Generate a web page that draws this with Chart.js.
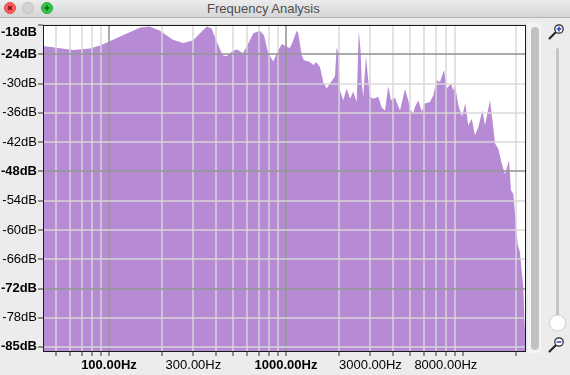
<!DOCTYPE html>
<html><head><meta charset="utf-8">
<script src="https://cdn.jsdelivr.net/npm/chart.js@4/dist/chart.umd.min.js"></script>
<style>
html,body{margin:0;padding:0;width:570px;height:375px;overflow:hidden;background:#ececec;font-family:"Liberation Sans",Arial,sans-serif;}
#titlebar{position:absolute;left:0;top:0;width:570px;height:17px;background:linear-gradient(#ececec,#d6d6d6);border-bottom:1px solid #b3b3b3;z-index:5;}
.tl{position:absolute;top:2px;width:12px;height:12px;border-radius:50%;box-sizing:border-box;}
#title{position:absolute;left:207px;top:1px;font-size:13px;line-height:16px;color:#4d4d4d;white-space:nowrap;}
#wrap{position:absolute;left:0;top:0;width:570px;height:375px;}
#side{position:absolute;left:0;top:0;width:570px;height:375px;pointer-events:none;}
</style></head>
<body>
<div id="wrap"><canvas id="c" width="570" height="375"></canvas></div>
<svg id="side" width="570" height="375" xmlns="http://www.w3.org/2000/svg">
  <rect x="528" y="23" width="13" height="330" fill="#f4f4f4"/>
  <rect x="531" y="27" width="8" height="323" rx="4" fill="#c2c2c2"/>
  <rect x="556" y="48" width="3" height="270" rx="1.5" fill="#c6c6c6"/>
  <circle cx="557.5" cy="323" r="8" fill="#ffffff" stroke="#c4c4c4" stroke-width="0.8"/>
  <g>
    <line x1="555.5" y1="32.5" x2="549.5" y2="38.5" stroke="#222" stroke-width="2" stroke-linecap="round"/>
    <circle cx="559" cy="29" r="4.2" fill="#ffffff" stroke="#222" stroke-width="1.2"/>
    <line x1="556.6" y1="29" x2="561.4" y2="29" stroke="#2a4fd6" stroke-width="1.6"/>
    <line x1="559" y1="26.6" x2="559" y2="31.4" stroke="#2a4fd6" stroke-width="1.6"/>
  </g>
  <g>
    <line x1="555.5" y1="345.5" x2="549.5" y2="351.5" stroke="#222" stroke-width="2" stroke-linecap="round"/>
    <circle cx="559" cy="342" r="4.2" fill="#ffffff" stroke="#222" stroke-width="1.2"/>
    <line x1="556.6" y1="342" x2="561.4" y2="342" stroke="#2a4fd6" stroke-width="1.6"/>
  </g>
</svg>
<div id="titlebar">
  <div class="tl" style="left:4px;background:#fc605c;border:1px solid #de4a45;"></div>
  <div class="tl" style="left:22px;background:#d3d3d3;border:1px solid #c2c2c2;"></div>
  <div class="tl" style="left:41px;background:#34c84a;border:1px solid #25a837;"></div>
  <svg width="60" height="17" style="position:absolute;left:0;top:0">
    <line x1="8" y1="6" x2="12" y2="10" stroke="#7e0508" stroke-width="1.2"/>
    <line x1="12" y1="6" x2="8" y2="10" stroke="#7e0508" stroke-width="1.2"/>
    <line x1="44" y1="8" x2="50" y2="8" stroke="#0b650d" stroke-width="1.3"/>
    <line x1="47" y1="5" x2="47" y2="11" stroke="#0b650d" stroke-width="1.3"/>
  </svg>
  <div id="title">Frequency Analysis</div>
</div>
<script>
// ---- data ----
const freqHz = [42.4,49.5,62.6,78.1,89.0,97.4,120,150,170,194,
  230,262,298,327,357,380,406,439,462,502,
  529,572,612,654,713,751,794,848,905,949,
  1013,1053,1100,1149,1174,1227,1264,1366,1427,1477,
  1556,1624,1698,1773,1892,1934,1975,2019,2107,2202,
  2299,2400,2508,2578,2642,2677,2733,2831,2879,2982,
  3113,3323,3473,3626,3784,3920,4128,4407,4702,4909,
  5019,5238,5355,5592,5843,6100,6511,6797,7102,7416,
  7810,8091,8554,8813,9010,9407,9871,10304,10713,11200,
  11690,12206,12887,13313,14209,14835,15165,15829,16543,17276,
  18197,18676,19244,19674,20370,20989,21458,21913,22259,22700];
const levelDb = [-22.3,-22.6,-23.1,-22.8,-22.2,-21.6,-20.1,-18.5,-18.3,-19.2,
  -21.0,-21.7,-21.2,-19.7,-18.3,-18.7,-21.4,-24.2,-24.4,-23.3,
  -23.0,-23.8,-21.8,-19.7,-19.2,-20.1,-23.8,-25.5,-23.1,-21.9,
  -22.5,-22.7,-21.1,-19.2,-19.7,-24.2,-25.2,-25.6,-26.2,-25.6,
  -26.6,-29.7,-31.0,-30.0,-28.5,-22.5,-23.8,-31.4,-33.4,-31.0,
  -33.1,-31.7,-33.8,-19.1,-23.5,-29.7,-32.7,-24.4,-27.2,-32.7,
  -33.1,-32.7,-34.9,-35.5,-30.5,-33.4,-32.9,-35.5,-31.1,-33.4,
  -35.3,-36.1,-34.8,-33.4,-35.7,-34.1,-33.8,-32.4,-29.3,-29.7,
  -27.2,-31.0,-30.0,-31.4,-30.3,-34.4,-36.8,-34.1,-38.6,-37.2,
  -40.6,-38.9,-35.5,-38.6,-33.4,-39.0,-42.3,-43.3,-46.4,-48.6,
  -45.7,-51.9,-52.6,-56.7,-62.9,-64.6,-68.4,-71.4,-78.6,-84.8];

const xTickValues = [50,60,70,80,90,100,200,300,400,500,600,700,800,900,1000,2000,3000,4000,5000,6000,7000,8000,9000,10000,20000];
const xLabelValues = [100,300,1000,3000,8000];
const xLabelTexts = ['100.00Hz','300.00Hz','1000.00Hz','3000.00Hz','8000.00Hz'];
const xBoldValues = [100,1000];
const xMajorGrid = [100,1000];
const xNoGrid = [10000];

const yTickValues = [-18,-24,-30,-36,-42,-48,-54,-60,-66,-72,-78,-84];
const yTickLabels = ['-18dB','-24dB','-30dB','-36dB','-42dB','-48dB','-54dB','-60dB','-66dB','-72dB','-78dB','-85dB'];
const yBoldValues = [-18,-24,-48,-72,-84];
const yMajorGrid = [-24,-48,-72];

const FONT = '"Liberation Sans", Arial, sans-serif';
const MINOR = 'rgba(216,216,216,0.72)';
const MAJOR = 'rgba(150,150,150,0.8)';

const plotBg = {
  id:'plotBg',
  beforeDraw(chart){
    const a = chart.chartArea, c = chart.ctx;
    c.save(); c.fillStyle = '#ffffff';
    c.fillRect(a.left, a.top, a.right-a.left, a.bottom-a.top); c.restore();
  }
};
const frame = {
  id:'frame',
  afterDraw(chart){
    const a = chart.chartArea, c = chart.ctx, ys = chart.scales.y;
    c.save();
    c.strokeStyle = '#1c1c1c'; c.lineWidth = 1;
    c.strokeRect(a.left+0.5, a.top+0.5, a.right-a.left-1, a.bottom-a.top-1);
    // y tick labels, positioned from the y scale
    c.fillStyle = '#000'; c.textAlign = 'right'; c.textBaseline = 'middle';
    yTickValues.forEach((v,i)=>{
      let py = ys.getPixelForValue(v);
      py = Math.min(Math.max(py, a.top+7.5), a.bottom-5.5);
      c.font = (yBoldValues.includes(v) ? 'bold ' : '') + '13px ' + FONT;
      c.fillText(yTickLabels[i], a.left-6, py);
    });
    c.restore();
  }
};

const pts = freqHz.map((f,i)=>({x:f, y:levelDb[i]}));

new Chart(document.getElementById('c'), {
  type:'line',
  data:{datasets:[{data:pts, fill:'start', backgroundColor:'#b78ad5', borderColor:'rgba(0,0,0,0)', borderWidth:0, pointRadius:0, tension:0}]},
  options:{
    responsive:false, animation:false, events:[],
    layout:{padding:{top:25, right:44, left:0, bottom:0}},
    plugins:{legend:{display:false}, tooltip:{enabled:false}, title:{display:false}},
    scales:{
      x:{
        type:'logarithmic', min:42.4, max:22700,
        afterBuildTicks(s){ s.ticks = xTickValues.map(v=>({value:v})); },
        afterFit(s){ s.height = 23; },
        border:{display:false},
        grid:{z:1, lineWidth:2, tickLength:4, tickColor:'#333', tickWidth:1,
          color:(ctx)=>{ const v = ctx.tick && ctx.tick.value;
            if (xNoGrid.includes(v)) return 'rgba(0,0,0,0)';
            return xMajorGrid.includes(v) ? MAJOR : MINOR; }},
        ticks:{autoSkip:false, maxRotation:0, minRotation:0, padding:2, color:'#000',
          font:(ctx)=>({family:FONT, size:13, weight:(ctx.tick && xBoldValues.includes(ctx.tick.value)) ? 'bold' : 'normal'}),
          callback:(v)=>{ const k = xLabelValues.indexOf(v); return k>=0 ? xLabelTexts[k] : ''; }}
      },
      y:{
        min:-85, max:-18,
        afterBuildTicks(s){ s.ticks = yTickValues.map(v=>({value:v})); },
        afterFit(s){ s.width = 43; },
        border:{display:false},
        grid:{z:1, lineWidth:2, tickLength:5, tickColor:'#333', tickWidth:1,
          color:(ctx)=>{ const v = ctx.tick && ctx.tick.value; return yMajorGrid.includes(v) ? MAJOR : MINOR; }},
        ticks:{display:false}
      }
    }
  },
  plugins:[plotBg, frame]
});
</script>
</body></html>
